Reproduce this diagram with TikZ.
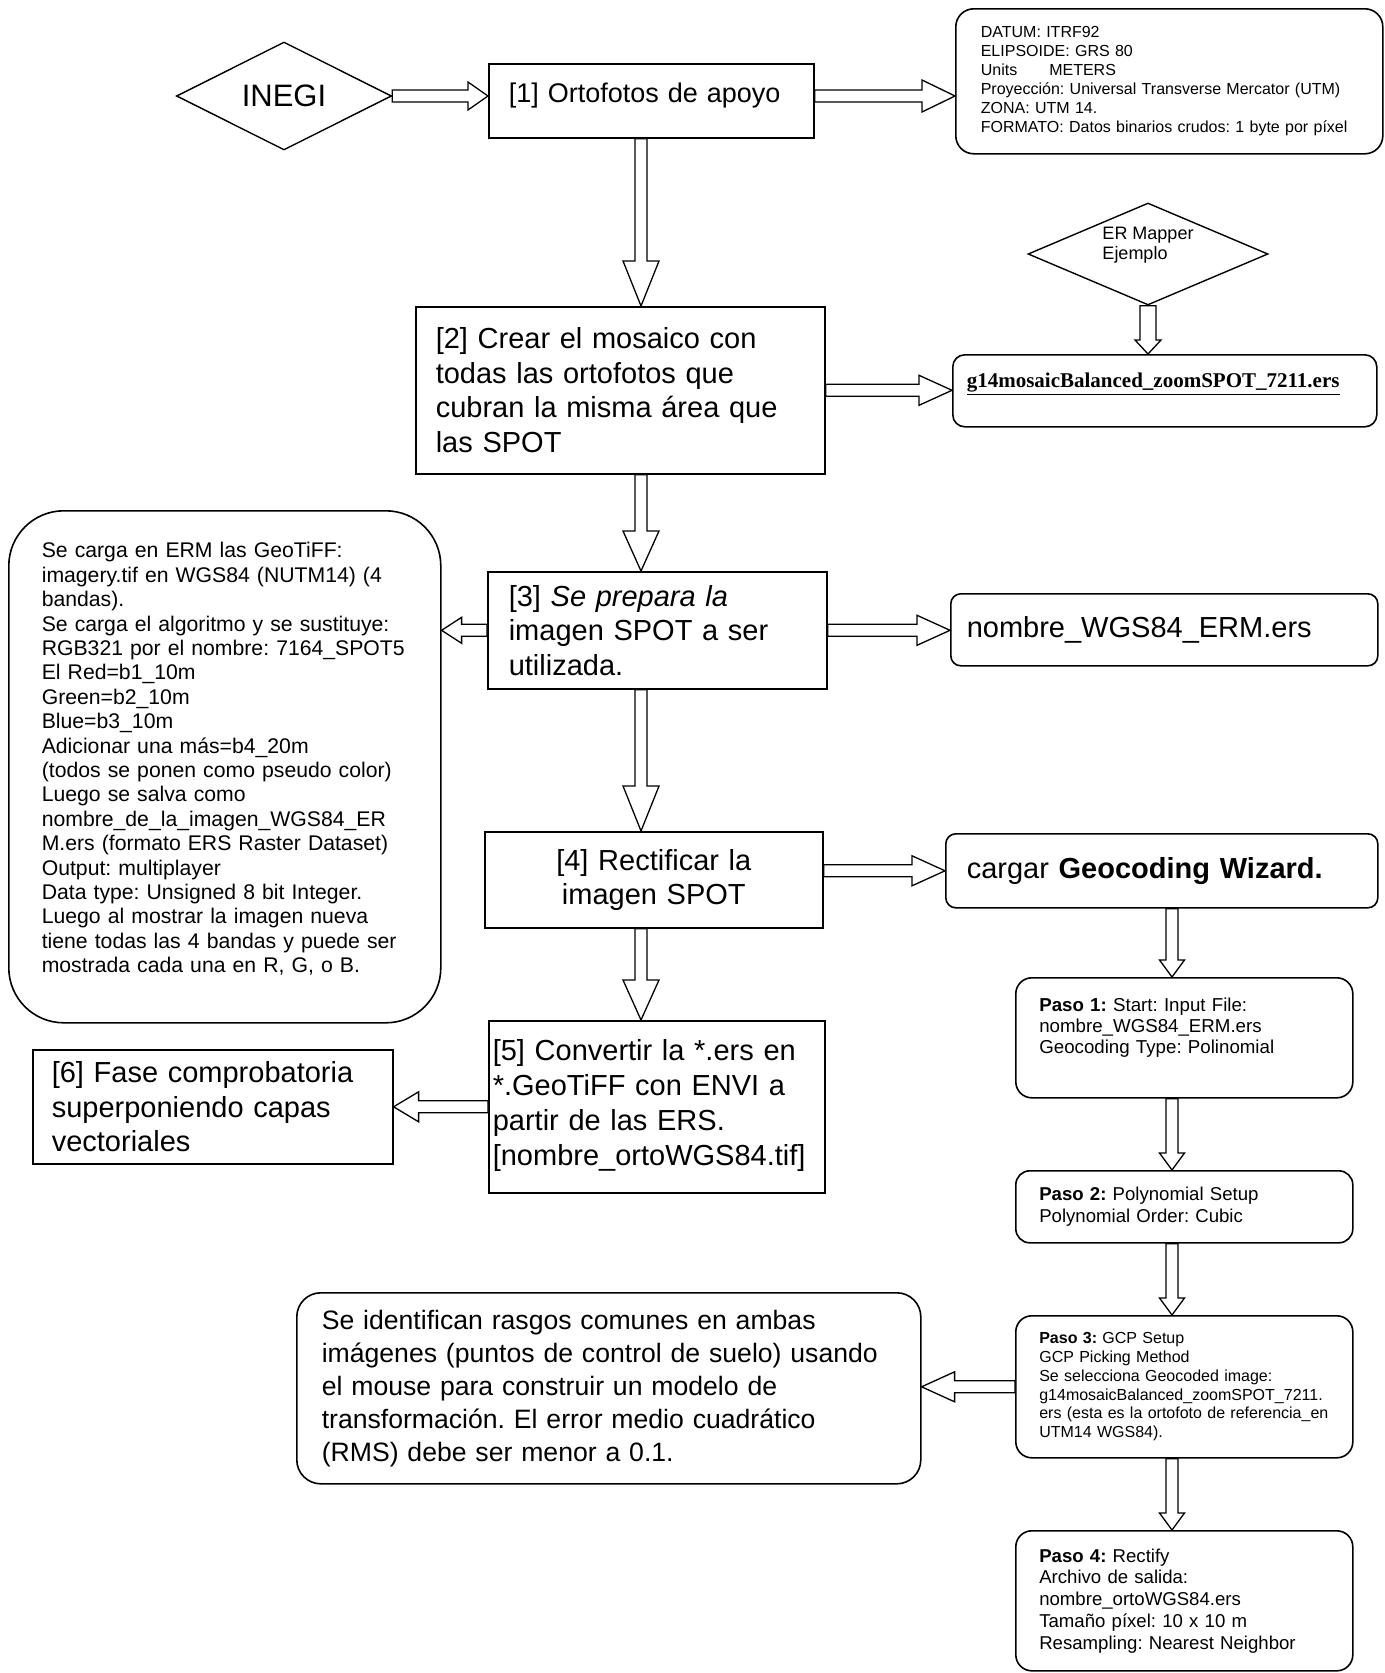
\documentclass[tikz,border=0pt]{standalone}
\usepackage{fontspec}
\setmainfont{Liberation Sans}
\newfontfamily\timesfont{Liberation Serif}
\usetikzlibrary{shapes.geometric,calc}
\frenchspacing

\newcommand{\fs}[2]{\fontsize{#1}{#2}\selectfont}
\newcommand{\fatarrow}[5]{%
  \draw[fat] let \p1=(#1), \p2=(#2),
    \n1={atan2(\y2-\y1,\x2-\x1)}, \n2={veclen(\x2-\x1,\y2-\y1)} in
    [shift={(\p1)}, rotate=\n1]
    (0,#3) -- (\n2-#5,#3) -- (\n2-#5,#4) -- (\n2,0) -- (\n2-#5,-#4) -- (\n2-#5,-#3) -- (0,-#3) -- cycle;
}

\begin{document}
\begin{tikzpicture}[x=1pt,y=-1pt,
  box/.style={draw, line width=1.6pt, anchor=north west, align=left, inner ysep=0pt},
  bigtxt/.style={font=\fs{29}{34.5}},
  fat/.style={draw, fill=white, line width=1.3pt},
  dia/.style={draw, diamond, line width=1.4pt, inner sep=0pt}]
  \useasboundingbox (0,0) rectangle (1384,1673);
  \coordinate (spine) at (641,0);
  \coordinate (rcol) at (1172,0);

  \node[dia, minimum width=215pt, minimum height=108pt, aspect=2, font=\fs{31}{36}] (inegi) at (284,96) {INEGI};
  \node[box, minimum width=325pt, text width=285pt, inner xsep=20pt, text height=39pt, text depth=35pt, font=\fs{27}{32}] (b1) at (488,63) {[1] Ortofotos de apoyo};
  \node[box, rounded corners=18pt, minimum width=427pt, minimum height=145pt, text width=377pt, inner xsep=25pt, font=\fs{16}{19}] (datum) at (955,8)
    {DATUM: ITRF92\\ELIPSOIDE: GRS 80\\Units\hspace{32pt}METERS\\Proyección: Universal Transverse Mercator (UTM)\\ZONA: UTM 14.\\FORMATO: Datos binarios crudos: 1 byte por píxel};
  \node[dia, minimum width=240pt, minimum height=102pt, aspect=2.35, align=left, text depth=22pt, font=\fs{18}{20}] (er) at (1148,254) {ER Mapper\\Ejemplo};
  \node[box, bigtxt, minimum width=409pt, minimum height=167pt, text width=369pt, inner xsep=20pt] (b2) at (415,306)
    {[2] Crear el mosaico con\\todas las ortofotos que\\cubran la misma área que\\las SPOT};
  \node[box, rounded corners=12pt, minimum width=424pt, text width=396pt, inner xsep=14pt, text height=33pt, text depth=39pt, font={\timesfont\bfseries\fs{21}{24}}] (g14) at (952,354)
    {\underline{g14mosaicBalanced\_zoomSPOT\_7211.ers}};
  \node[box, rounded corners=55pt, minimum width=432pt, text width=366pt, inner xsep=33pt, text height=47pt, text depth=465pt, font=\fs{21.2}{24.4}] (note) at (8,510)
    {Se carga en ERM las GeoTiFF:\\imagery.tif en WGS84 (NUTM14) (4\\bandas).\\Se carga el algoritmo y se sustituye:\\RGB321 por el nombre: 7164\_SPOT5\\El Red=b1\_10m\\Green=b2\_10m\\Blue=b3\_10m\\Adicionar una más=b4\_20m\\(todos se ponen como pseudo color)\\Luego se salva como\\nombre\_de\_la\_imagen\_WGS84\_ER\\M.ers (formato ERS Raster Dataset)\\Output: multiplayer\\Data type: Unsigned 8 bit Integer.\\Luego al mostrar la imagen nueva\\tiene todas las 4 bandas y puede ser\\mostrada cada una en R, G, o B.};
  \node[box, bigtxt, minimum width=339pt, minimum height=117pt, text width=297pt, inner xsep=21pt] (b3) at (487,571)
    {[3] \textit{Se prepara la}\\imagen SPOT a ser\\utilizada.};
  \node[box, bigtxt, rounded corners=10pt, minimum width=427pt, minimum height=72pt, text width=395pt, inner xsep=16pt] (nombre) at (950,593) {nombre\_WGS84\_ERM.ers};
  \node[box, bigtxt, align=center, minimum width=338pt, minimum height=96pt, text width=300pt, inner xsep=19pt] (b4) at (484,831) {[4] Rectificar la\\imagen SPOT};
  \node[box, bigtxt, rounded corners=10pt, minimum width=432pt, minimum height=74pt, text width=390pt, inner xsep=21pt] (cargar) at (945,833) {cargar \textbf{Geocoding Wizard.}};
  \node[box, rounded corners=16pt, minimum width=337pt, text width=290pt, inner xsep=23.5pt, text height=34pt, text depth=86pt, font=\fs{18.7}{21}] (paso1) at (1015,977)
    {\textbf{Paso 1:} Start: Input File:\\nombre\_WGS84\_ERM.ers\\Geocoding Type: Polinomial};
  \node[box, minimum width=336pt, text width=328pt, inner xsep=4pt, text height=40pt, text depth=132pt, font=\fs{29}{35}] (b5) at (488,1020)
    {[5] Convertir la *.ers en\\{}*.GeoTiFF con ENVI a\\partir de las ERS.\\{}[nombre\_ortoWGS84.tif]};
  \node[box, bigtxt, minimum width=360pt, minimum height=114pt, text width=322pt, inner xsep=19pt] (b6) at (32,1049)
    {[6] Fase comprobatoria\\superponiendo capas\\vectoriales};
  \node[box, rounded corners=14pt, minimum width=337pt, minimum height=72pt, text width=290pt, inner xsep=23.5pt, font=\fs{18.6}{22}] (paso2) at (1015,1170)
    {\textbf{Paso 2:} Polynomial Setup\\Polynomial Order: Cubic};
  \node[box, rounded corners=16pt, minimum width=337pt, minimum height=142pt, text width=290pt, inner xsep=23.5pt, font=\fs{16}{18.8}] (paso3) at (1015,1315)
    {\textbf{Paso 3:} GCP Setup\\GCP Picking Method\\Se selecciona Geocoded image:\\g14mosaicBalanced\_zoomSPOT\_7211.\\ers (esta es la ortofoto de referencia\_en\\UTM14 WGS84).};
  \node[box, rounded corners=24pt, minimum width=624pt, minimum height=191pt, text width=574pt, inner xsep=25pt, font=\fs{26.6}{33}] (rms) at (296,1292)
    {Se identifican rasgos comunes en ambas\\imágenes (puntos de control de suelo) usando\\el mouse para construir un modelo de\\transformación. El error medio cuadrático\\(RMS) debe ser menor a 0.1.};
  \node[box, rounded corners=16pt, minimum width=337pt, minimum height=140pt, text width=290pt, inner xsep=23.5pt, font=\fs{18.6}{21.7}] (paso4) at (1015,1530)
    {\textbf{Paso 4:} Rectify\\Archivo de salida:\\nombre\_ortoWGS84.ers\\Tamaño píxel: 10 x 10 m\\Resampling: Nearest Neighbor};

  \fatarrow{inegi.east}{inegi.east -| b1.west}{6}{14}{20}
  \fatarrow{b1.east |- inegi.east}{inegi.east -| datum.west}{6}{16}{33}
  \fatarrow{b1.south -| spine}{b2.north -| spine}{6}{18}{45}
  \fatarrow{b2.east}{b2.east -| g14.west}{6}{15}{33}
  \fatarrow{er.south}{er.south |- g14.north}{8}{13}{14}
  \fatarrow{b2.south -| spine}{b3.north -| spine}{6}{18}{40}
  \fatarrow{b3.west}{b3.west -| note.east}{6}{13}{20}
  \fatarrow{b3.east}{b3.east -| nombre.west}{6}{15}{33}
  \fatarrow{b3.south -| spine}{b4.north -| spine}{6}{18}{45}
  \fatarrow{cargar.west -| b4.east}{cargar.west}{6}{15}{33}
  \fatarrow{b4.south -| spine}{b5.north -| spine}{6}{18}{40}
  \fatarrow{b6.east -| b5.west}{b6.east}{6}{15}{25}
  \fatarrow{cargar.south -| rcol}{paso1.north -| rcol}{6}{12.5}{17}
  \fatarrow{paso1.south -| rcol}{paso2.north -| rcol}{6}{12.5}{17}
  \fatarrow{paso2.south -| rcol}{paso3.north -| rcol}{6}{12.5}{17}
  \fatarrow{paso3.south -| rcol}{paso4.north -| rcol}{6}{12.5}{17}
  \fatarrow{paso3.west}{paso3.west -| rms.east}{6}{15}{33}
\end{tikzpicture}
\end{document}
